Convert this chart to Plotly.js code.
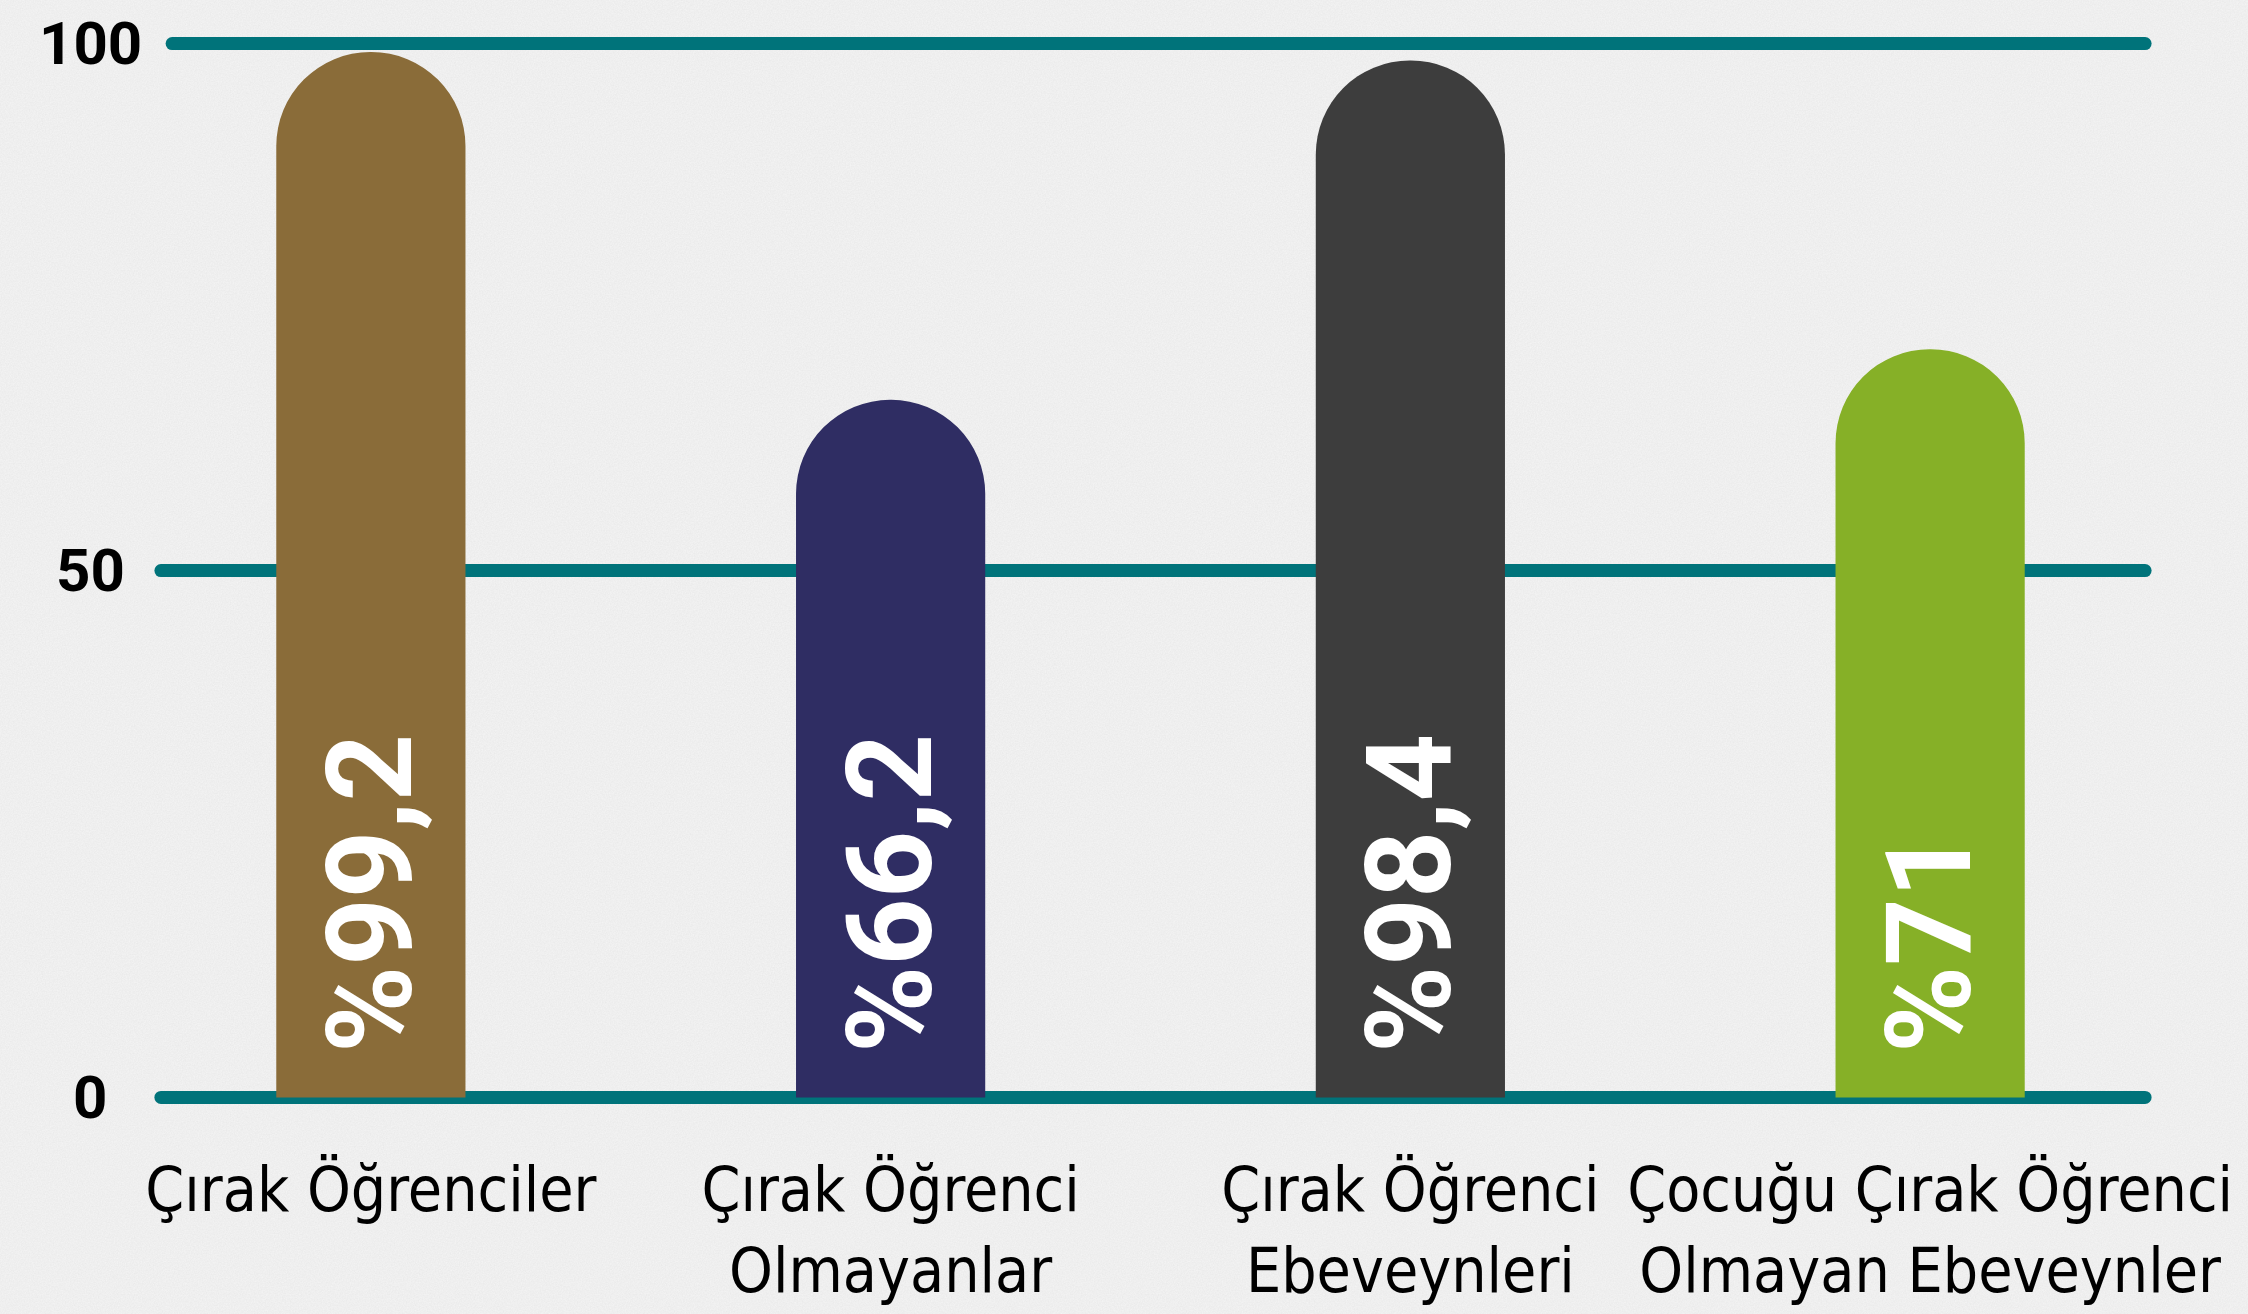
<!DOCTYPE html>
<html>
<head>
<meta charset="utf-8">
<script src="https://cdn.plot.ly/plotly-3.0.1.min.js"></script>
<style>
  html, body { margin: 0; padding: 0; }
  body {
    width: 2248px; height: 1314px; overflow: hidden;
    background-color: #f5f5f5;
    background-image: url("data:image/svg+xml;utf8,<svg xmlns='http://www.w3.org/2000/svg' width='512' height='512'><filter id='n'><feTurbulence type='fractalNoise' baseFrequency='0.75' numOctaves='3' stitchTiles='stitch'/><feColorMatrix values='0 0 0 0 0  0 0 0 0 0  0 0 0 0 0  0.05 0 0 0 0'/></filter><rect width='100%' height='100%' filter='url(%23n)'/></svg>");
  }
  #chart { width: 2248px; height: 1314px; }
</style>
</head>
<body>
<div id="chart"></div>
<script>
// ---- data ----
var categories = [
  "Çırak Öğrenciler",
  "Çırak Öğrenci<br>Olmayanlar",
  "Çırak Öğrenci<br>Ebeveynleri",
  "Çocuğu Çırak Öğrenci<br>Olmayan Ebeveynler"
];
var values = [99.2, 66.2, 98.4, 71];
var barColors = ["#8a6c39", "#2f2d63", "#3d3d3d", "#86b027"];
var yTickValues = [0, 50, 100];
var yTickLabels = ["0", "50", "100"];

// ---- build ----
var valueText = values.map(function (v) {
  return "\u00A0\u200A%" + String(v).replace(".", ",");
});

var trace = {
  type: "bar",
  x: categories,
  y: values,
  text: valueText,
  textposition: "inside",
  insidetextanchor: "start",
  textangle: -90,
  constraintext: "none",
  cliponaxis: false,
  textfont: { family: "Roboto, 'DejaVu Sans', sans-serif", size: 118, color: "#ffffff", weight: 700 },
  marker: { color: barColors, cornerradius: "50%", line: { width: 0 } },
  hoverinfo: "skip"
};

var TEAL = "#00737a";
var shapes = yTickValues.map(function (v, i) {
  return {
    type: "line", xref: "paper", yref: "y",
    x0: (yTickLabels[i].length >= 3) ? 0.0294 : 0.0240, x1: 0.9784,
    y0: v, y1: v,
    line: { color: TEAL, width: 13 },
    layer: "below"
  };
});

var annotations = yTickValues.map(function (v, i) {
  return {
    xref: "paper", yref: "y", x: -0.0101, y: v,
    xanchor: "center", yanchor: "middle",
    text: yTickLabels[i], showarrow: false,
    font: { family: "Roboto, 'DejaVu Sans', sans-serif", size: 60, color: "#000000", weight: 700 }
  };
});

var layout = {
  width: 2248, height: 1314,
  margin: { l: 111, r: 58, t: 12, b: 206 },
  paper_bgcolor: "rgba(0,0,0,0)",
  plot_bgcolor: "rgba(0,0,0,0)",
  showlegend: false,
  bargap: 0.636,
  xaxis: {
    type: "category",
    range: [-0.5, 3.5],
    tickangle: 0,
    showgrid: false, zeroline: false, showline: false, ticks: "",
    tickfont: { family: "'Liberation Sans Narrow', 'DejaVu Sans Condensed', sans-serif", size: 62, color: "#000000" },
    ticklabelstandoff: 40
  },
  yaxis: {
    range: [-1, 103],
    showgrid: false, zeroline: false, showline: false, showticklabels: false, ticks: ""
  },
  shapes: shapes,
  annotations: annotations
};

Plotly.newPlot("chart", [trace], layout, { staticPlot: true, displayModeBar: false }).then(function () {
  document.querySelectorAll(".shapelayer path").forEach(function (p) {
    p.style.strokeLinecap = "round";
  });
});
</script>
</body>
</html>
